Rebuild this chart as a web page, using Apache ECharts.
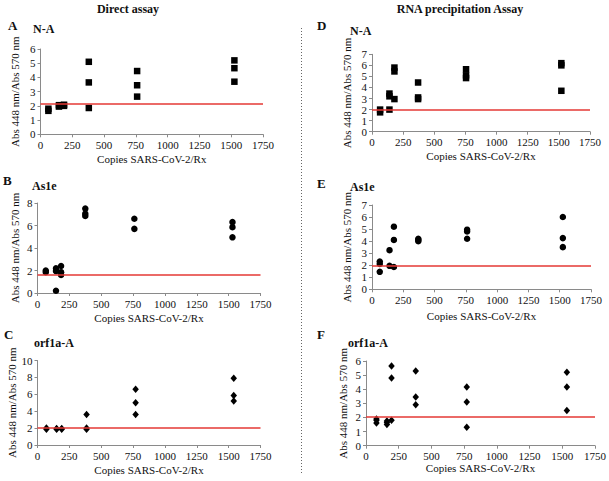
<!DOCTYPE html>
<html><head><meta charset="utf-8">
<script src="https://cdn.jsdelivr.net/npm/echarts@6/dist/echarts.min.js"></script>
<style>html,body{margin:0;padding:0;background:#fff}#c{width:609px;height:481px}</style>
</head><body><div id="c"></div>
<script>
// ---- data ----
var xTicksMax = 1750;
var xA = [62,62,145,145,185,185,380,380,380,760,760,760,1525,1525,1525];
var yA = [1.8,1.65,1.95,2.05,2.0,2.08,5.1,3.65,1.85,4.45,3.45,2.65,5.2,4.65,3.7];
var xD = [65,65,140,140,140,180,180,180,370,370,370,755,755,755,1520,1520,1520];
var yD = [2.0,1.75,3.45,3.2,2.0,5.8,5.45,2.95,4.45,3.1,2.95,5.65,5.1,4.85,6.2,6.0,3.7];
var xB = [65,65,145,145,145,185,185,185,375,375,375,760,760,1530,1530,1530];
var yB = [2.0,1.85,2.2,1.95,0.2,2.4,1.85,1.6,7.5,7.05,6.85,6.6,5.7,6.3,5.85,4.95];
var xE = [62,62,62,140,140,175,175,175,370,370,370,760,760,760,1525,1525,1525];
var yE = [2.3,2.1,1.45,3.25,1.95,5.2,4.1,1.85,4.2,4.1,4.0,4.95,4.8,4.2,6.0,4.25,3.5];
var xC = [70,70,150,150,190,190,385,385,385,770,770,770,1540,1540,1540];
var yC = [2.0,1.85,1.95,1.85,1.95,1.85,3.6,2.0,1.85,6.6,5.0,3.6,7.9,5.85,5.2];
var xF = [80,80,80,160,160,160,195,195,195,380,380,380,770,770,770,1535,1535,1535];
var yF = [1.9,1.8,1.6,1.75,1.65,1.5,5.65,4.8,1.8,5.3,3.45,2.9,4.15,3.1,1.3,5.2,4.15,2.5];
var thresholds = [2.13, 1.97, 1.65, 1.97, 2.05, 2.05]; // A, D, B, E, C, F
var yMaxes = [6, 7, 8, 7, 10, 6];
var yIntervals = [1, 1, 2, 1, 2, 1];
var panelLetters = ['A','D','B','E','C','F'];
var panelNames = ['N-A','N-A','As1e','As1e','orf1a-A','orf1a-A'];
var columnTitles = ['Direct assay','RNA precipitation Assay'];
var xAxisTitle = 'Copies SARS-CoV-2/Rx';
var yAxisTitle = 'Abs 448 nm/Abs 570 nm';

// ---- layout ----
var FONT = "'Liberation Serif', 'Times New Roman', serif";
var grids = [
  {left:40.5, top:49, width:222.5, height:85.3},
  {left:372, top:54.3, width:218, height:77.4},
  {left:37.5, top:203, width:223, height:90},
  {left:372, top:205, width:219, height:84.3},
  {left:37.5, top:360.5, width:223, height:84.5},
  {left:366, top:361, width:230, height:84.7}
];
var symbols = ['rect','rect','circle','circle','diamond','diamond'];
var symSizes = [6.5,6.5,6.5,6.5,[6.5,7.5],[6.5,7.5]];
var xs = [xA,xD,xB,xE,xC,xF], ys = [yA,yD,yB,yE,yC,yF];
var yNameGaps = [20,20,17,20,17,17.5];
var xNameGaps = [19,19,19,21,19,15];

function pairs(a,b){ return a.map(function(v,i){return [v,b[i]];}); }
var axisCol = '#8a8a8a';
var option = {
  animation:false,
  textStyle:{fontFamily:FONT},
  grid: grids,
  xAxis: grids.map(function(g,i){ return {
    gridIndex:i, type:'value', min:0, max:xTicksMax, interval:250,
    name:xAxisTitle, nameLocation:'middle', nameGap:xNameGaps[i],
    nameTextStyle:{fontFamily:FONT, fontSize:11, color:'#111'},
    axisLine:{show:true, onZero:false, lineStyle:{color:axisCol}},
    axisTick:{show:true, length:3, lineStyle:{color:axisCol}},
    axisLabel:{fontFamily:FONT, fontSize:11, color:'#111', margin:5,
      formatter:function(v){return String(v);}},
    splitLine:{show:false}
  };}),
  yAxis: grids.map(function(g,i){ return {
    gridIndex:i, type:'value', min:0, max:yMaxes[i], interval:yIntervals[i],
    name:yAxisTitle, nameLocation:'middle', nameGap:yNameGaps[i],
    nameTextStyle:{fontFamily:FONT, fontSize:11, color:'#111'},
    axisLine:{show:true, lineStyle:{color:axisCol}},
    axisTick:{show:true, length:3, lineStyle:{color:axisCol}},
    axisLabel:{fontFamily:FONT, fontSize:11, color:'#111', margin:5,
      formatter:function(v){return String(v);}},
    splitLine:{show:false}
  };}),
  series: grids.map(function(g,i){ return {
    type:'scatter', xAxisIndex:i, yAxisIndex:i,
    symbol:symbols[i], symbolSize:symSizes[i],
    itemStyle:{color:'#000', opacity:1},
    data:pairs(xs[i], ys[i]),
    markLine:{silent:true, symbol:['none','none'], label:{show:false},
      lineStyle:{color:'#e53935', width:1.5, type:'solid', opacity:1},
      data:[{yAxis:thresholds[i]}]}
  };}),
  graphic: []
};
var colCenters = [[128,8.5],[460,9]];
columnTitles.forEach(function(t,i){
  option.graphic.push({type:'text', x:colCenters[i][0], y:colCenters[i][1],
    style:{text:t, fontFamily:FONT, fontWeight:'bold', fontSize:12, fill:'#111', align:'center', verticalAlign:'middle'}});
});
var letterPos = [[8,25],[317,25],[3,180],[317,183],[4,334],[317,334]];
var namePos = [[33,29],[350,31],[32,186],[350,187],[34,343],[348,343]];
panelLetters.forEach(function(t,i){
  option.graphic.push({type:'text', x:letterPos[i][0], y:letterPos[i][1],
    style:{text:t, fontFamily:FONT, fontWeight:'bold', fontSize:13, fill:'#111', align:'left', verticalAlign:'middle'}});
  option.graphic.push({type:'text', x:namePos[i][0], y:namePos[i][1],
    style:{text:panelNames[i], fontFamily:FONT, fontWeight:'bold', fontSize:12, fill:'#111', align:'left', verticalAlign:'middle'}});
});
option.graphic.push({type:'line', shape:{x1:301.5,y1:28,x2:301.5,y2:474},
  style:{stroke:'#666', lineWidth:1, lineDash:[1,2]}});

var chart = echarts.init(document.getElementById('c'), null, {renderer:'svg'});
chart.setOption(option);
</script></body></html>
